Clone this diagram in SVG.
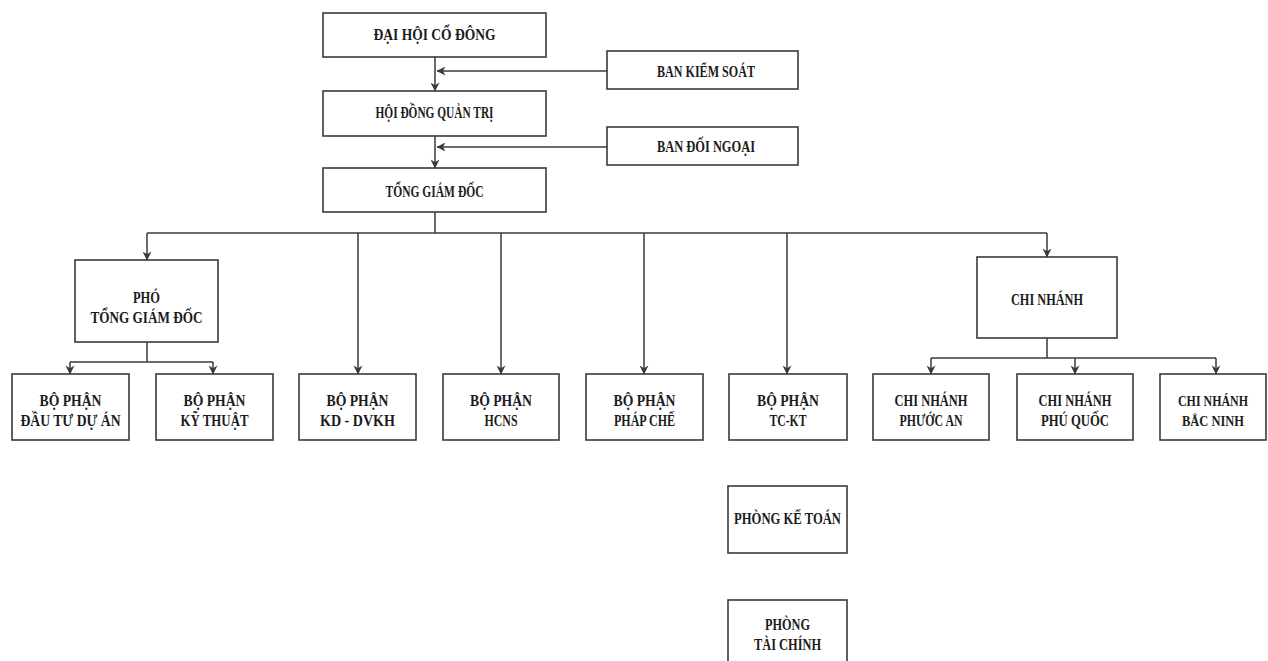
<svg xmlns="http://www.w3.org/2000/svg" width="1268" height="661" viewBox="0 0 1268 661">
<style>
.box{fill:#ffffff;stroke:#3a3a3a;stroke-width:1.6}
.t{font-family:"Liberation Serif","Times New Roman",serif;font-weight:bold;font-size:16px;fill:#1c1c1c;text-anchor:middle}
.s{font-size:15px}
.c{fill:none;stroke:#3a3a3a;stroke-width:1.5}
.a{marker-end:url(#arr)}
</style>
<defs>
<marker id="arr" viewBox="0 0 10 10" refX="9.5" refY="5" markerWidth="9" markerHeight="9" markerUnits="userSpaceOnUse" orient="auto">
<path d="M0,0 L10,5 L0,10 L3,5 z" fill="#3a3a3a"/>
</marker>
</defs>
<rect width="1268" height="661" fill="#ffffff"/>

<g id="connectors">
<line class="c a" x1="435" y1="57" x2="435" y2="91"/>
<line class="c a" x1="607" y1="71" x2="437" y2="71"/>
<line class="c a" x1="435" y1="136" x2="435" y2="168"/>
<line class="c a" x1="607" y1="147" x2="437" y2="147"/>
<line class="c" x1="435" y1="212" x2="435" y2="233"/>
<line class="c" x1="147" y1="233" x2="1047" y2="233"/>
<line class="c a" x1="147" y1="233" x2="147" y2="260"/>
<line class="c a" x1="358" y1="233" x2="358" y2="374"/>
<line class="c a" x1="501" y1="233" x2="501" y2="374"/>
<line class="c a" x1="644" y1="233" x2="644" y2="374"/>
<line class="c a" x1="787" y1="233" x2="787" y2="374"/>
<line class="c a" x1="1047" y1="233" x2="1047" y2="257"/>
<line class="c" x1="147" y1="342" x2="147" y2="362"/>
<line class="c" x1="70" y1="362" x2="213" y2="362"/>
<line class="c a" x1="70" y1="362" x2="70" y2="374"/>
<line class="c a" x1="213" y1="362" x2="213" y2="374"/>
<line class="c" x1="1047" y1="338" x2="1047" y2="358"/>
<line class="c" x1="931" y1="358" x2="1216" y2="358"/>
<line class="c a" x1="931" y1="358" x2="931" y2="374"/>
<line class="c a" x1="1075" y1="358" x2="1075" y2="374"/>
<line class="c a" x1="1216" y1="358" x2="1216" y2="374"/>
</g>

<g id="dai-hoi-co-dong"><rect class="box" x="323" y="13" width="223" height="44"/><text class="t" x="434.5" y="40" textLength="122" lengthAdjust="spacingAndGlyphs">ĐẠI HỘI CỔ ĐÔNG</text></g>
<g id="ban-kiem-soat"><rect class="box" x="607" y="51" width="191" height="38"/><text class="t" x="706" y="77" textLength="98" lengthAdjust="spacingAndGlyphs">BAN KIỂM SOÁT</text></g>
<g id="hoi-dong-quan-tri"><rect class="box" x="323" y="91" width="223" height="45"/><text class="t" x="434.5" y="118" textLength="118" lengthAdjust="spacingAndGlyphs">HỘI ĐỒNG QUẢN TRỊ</text></g>
<g id="ban-doi-ngoai"><rect class="box" x="607" y="127" width="191" height="38"/><text class="t" x="706" y="152" textLength="98" lengthAdjust="spacingAndGlyphs">BAN ĐỐI NGOẠI</text></g>
<g id="tong-giam-doc"><rect class="box" x="323" y="168" width="223" height="44"/><text class="t" x="434.5" y="197" textLength="98" lengthAdjust="spacingAndGlyphs">TỔNG GIÁM ĐỐC</text></g>

<g id="pho-tong-giam-doc"><rect class="box" x="75" y="260" width="143" height="82"/><text class="t" x="146.5" y="303" textLength="27" lengthAdjust="spacingAndGlyphs">PHÓ</text><text class="t" x="146.5" y="323" textLength="112" lengthAdjust="spacingAndGlyphs">TỔNG GIÁM ĐỐC</text></g>
<g id="chi-nhanh"><rect class="box" x="977" y="257" width="140" height="81"/><text class="t" x="1047" y="305" textLength="72" lengthAdjust="spacingAndGlyphs">CHI NHÁNH</text></g>

<g id="bp-dau-tu-du-an"><rect class="box" x="12" y="374" width="117" height="66"/><text class="t" x="70.5" y="406" textLength="62" lengthAdjust="spacingAndGlyphs">BỘ PHẬN</text><text class="t" x="70.5" y="426" textLength="100" lengthAdjust="spacingAndGlyphs">ĐẦU TƯ DỰ ÁN</text></g>
<g id="bp-ky-thuat"><rect class="box" x="156" y="374" width="117" height="66"/><text class="t" x="214.5" y="406" textLength="62" lengthAdjust="spacingAndGlyphs">BỘ PHẬN</text><text class="t" x="214.5" y="426" textLength="68" lengthAdjust="spacingAndGlyphs">KỸ THUẬT</text></g>
<g id="bp-kd-dvkh"><rect class="box" x="299" y="374" width="117" height="66"/><text class="t" x="357.5" y="406" textLength="62" lengthAdjust="spacingAndGlyphs">BỘ PHẬN</text><text class="t" x="357.5" y="426" textLength="75" lengthAdjust="spacingAndGlyphs">KD - DVKH</text></g>
<g id="bp-hcns"><rect class="box" x="443" y="374" width="116" height="66"/><text class="t" x="501" y="406" textLength="62" lengthAdjust="spacingAndGlyphs">BỘ PHẬN</text><text class="t" x="501" y="426" textLength="33" lengthAdjust="spacingAndGlyphs">HCNS</text></g>
<g id="bp-phap-che"><rect class="box" x="586" y="374" width="117" height="66"/><text class="t" x="644.5" y="406" textLength="62" lengthAdjust="spacingAndGlyphs">BỘ PHẬN</text><text class="t" x="644.5" y="426" textLength="61" lengthAdjust="spacingAndGlyphs">PHÁP CHẾ</text></g>
<g id="bp-tc-kt"><rect class="box" x="729" y="374" width="118" height="66"/><text class="t" x="788" y="406" textLength="62" lengthAdjust="spacingAndGlyphs">BỘ PHẬN</text><text class="t" x="788" y="426" textLength="37" lengthAdjust="spacingAndGlyphs">TC-KT</text></g>
<g id="cn-phuoc-an"><rect class="box" x="873" y="374" width="116" height="66"/><text class="t" x="931" y="406" textLength="73" lengthAdjust="spacingAndGlyphs">CHI NHÁNH</text><text class="t" x="931" y="426" textLength="63" lengthAdjust="spacingAndGlyphs">PHƯỚC AN</text></g>
<g id="cn-phu-quoc"><rect class="box" x="1017" y="374" width="116" height="66"/><text class="t" x="1075" y="406" textLength="73" lengthAdjust="spacingAndGlyphs">CHI NHÁNH</text><text class="t" x="1075" y="426" textLength="68" lengthAdjust="spacingAndGlyphs">PHÚ QUỐC</text></g>
<g id="cn-bac-ninh"><rect class="box" x="1160" y="374" width="106" height="66"/><text class="t s" x="1213" y="406" textLength="70" lengthAdjust="spacingAndGlyphs">CHI NHÁNH</text><text class="t s" x="1213" y="426" textLength="62" lengthAdjust="spacingAndGlyphs">BẮC NINH</text></g>

<g id="phong-ke-toan"><rect class="box" x="728" y="486" width="119" height="67"/><text class="t" x="787.5" y="524" textLength="107" lengthAdjust="spacingAndGlyphs">PHÒNG KẾ TOÁN</text></g>
<g id="phong-tai-chinh"><rect class="box" x="728" y="600" width="119" height="70"/><text class="t" x="787.5" y="630" textLength="45" lengthAdjust="spacingAndGlyphs">PHÒNG</text><text class="t" x="787.5" y="650" textLength="67" lengthAdjust="spacingAndGlyphs">TÀI CHÍNH</text></g>
</svg>
